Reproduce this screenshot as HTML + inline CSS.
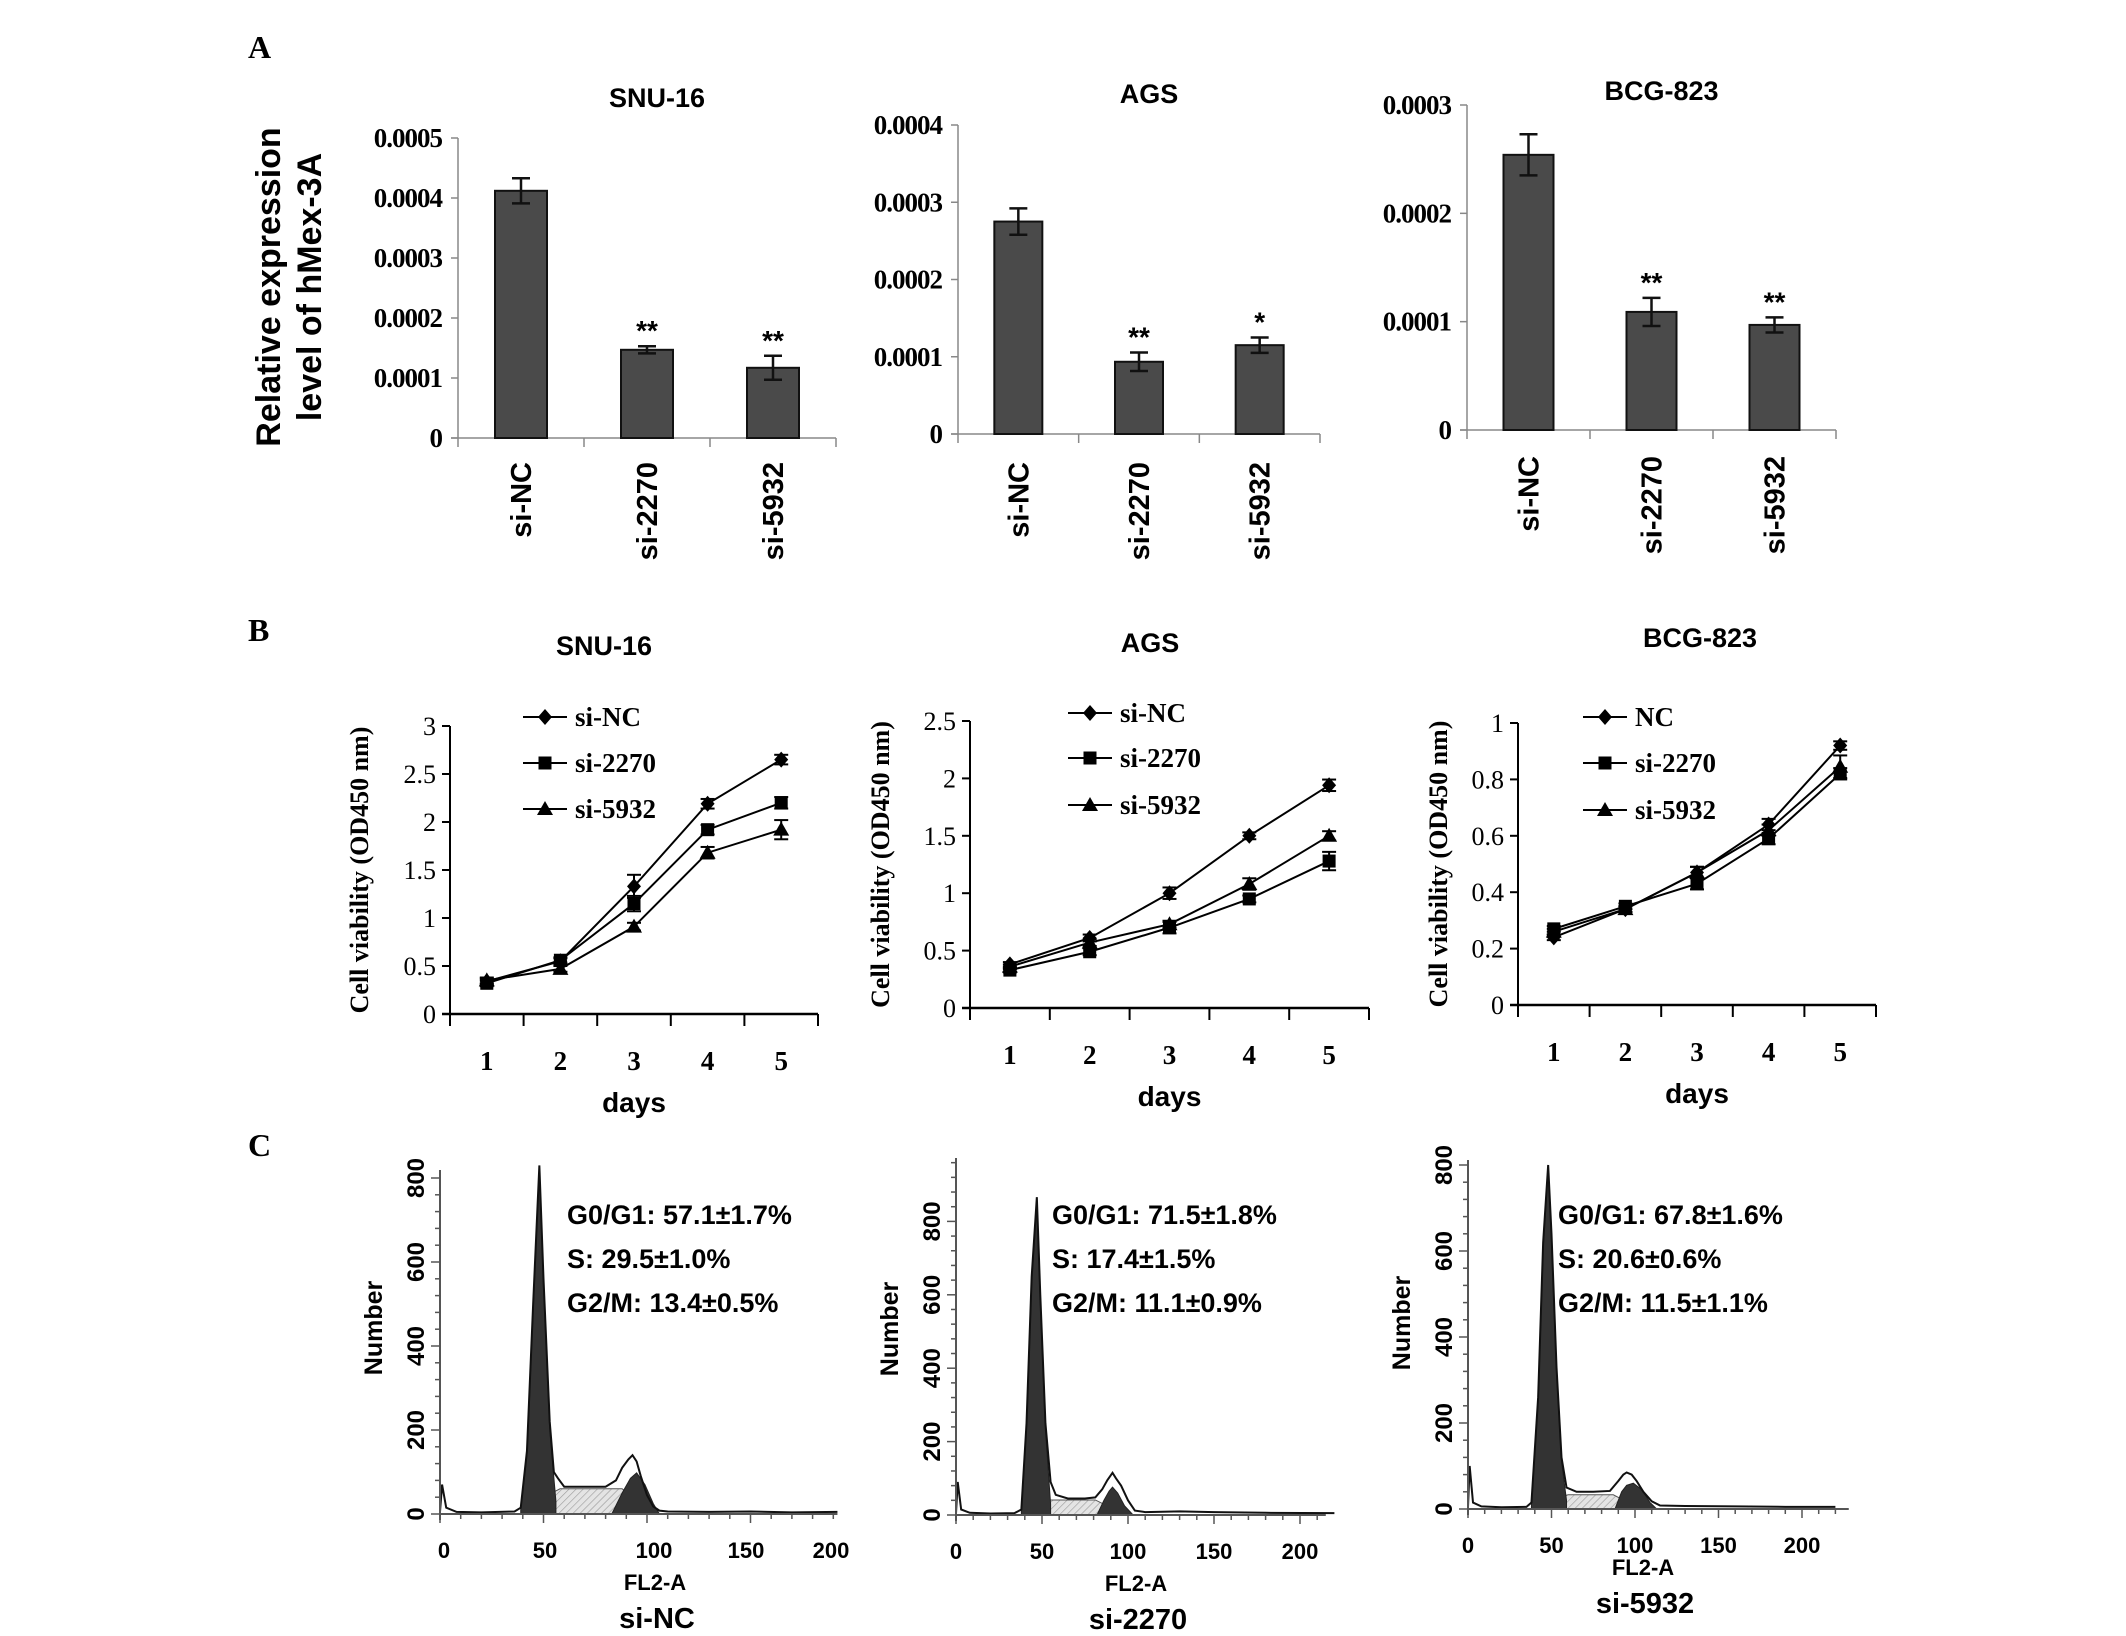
<!DOCTYPE html>
<html><head><meta charset="utf-8">
<style>
html,body{margin:0;padding:0;background:#fff;}
svg{display:block;}
.sans{font-family:"Liberation Sans",sans-serif;font-weight:bold;}
.serif{font-family:"Liberation Serif",serif;font-weight:bold;}
</style></head>
<body>
<svg id="fig" xmlns="http://www.w3.org/2000/svg" width="2126" height="1636" viewBox="0 0 2126 1636">
<defs>
<pattern id="hatch" width="5" height="5" patternUnits="userSpaceOnUse" patternTransform="rotate(45)">
<rect width="5" height="5" fill="#e4e4e4"/><line x1="0" y1="0" x2="0" y2="5" stroke="#9a9a9a" stroke-width="1.2"/>
</pattern>
</defs>
<text x="248" y="58" class="serif" font-size="32">A</text>
<text x="248" y="641" class="serif" font-size="32">B</text>
<text x="248" y="1156" class="serif" font-size="32">C</text>
<g transform="translate(280,287) rotate(-90)">
<text x="0" y="0" text-anchor="middle" class="sans" font-size="34">Relative expression</text>
<text x="0" y="41" text-anchor="middle" class="sans" font-size="34">level of hMex-3A</text>
</g>
</svg>
<script>
// ---------- Panel A data ----------
const aCategories = ["si-NC", "si-2270", "si-5932"];
const aTitles = ["SNU-16", "AGS", "BCG-823"];
const aValsSNU = [0.000412, 0.000147, 0.000117];
const aErrSNU = [0.000021, 0.000006, 0.000020];
const aValsAGS = [0.000275, 0.0000935, 0.000115];
const aErrAGS = [0.000017, 0.000012, 0.000010];
const aValsBCG = [0.000254, 0.000109, 0.000097];
const aErrBCG = [0.000019, 0.000013, 0.000007];
const aStars = [["", "**", "**"], ["", "**", "*"], ["", "**", "**"]];
const aTicksSNU = [0, 0.0001, 0.0002, 0.0003, 0.0004, 0.0005];
const aTickLabelsSNU = ["0", "0.0001", "0.0002", "0.0003", "0.0004", "0.0005"];
const aTicksAGS = [0, 0.0001, 0.0002, 0.0003, 0.0004];
const aTickLabelsAGS = ["0", "0.0001", "0.0002", "0.0003", "0.0004"];
const aTicksBCG = [0, 0.0001, 0.0002, 0.0003];
const aTickLabelsBCG = ["0", "0.0001", "0.0002", "0.0003"];

// ---------- Panel B data ----------
const bDays = [1, 2, 3, 4, 5];
const bSeriesNames = [["si-NC", "si-2270", "si-5932"], ["si-NC", "si-2270", "si-5932"], ["NC", "si-2270", "si-5932"]];
const bSNU_NC = [0.34, 0.55, 1.33, 2.19, 2.65];
const bSNU_2270 = [0.32, 0.56, 1.15, 1.92, 2.2];
const bSNU_5932 = [0.35, 0.47, 0.91, 1.68, 1.92];
const bSNU_errNC = [0.03, 0.03, 0.12, 0.05, 0.05];
const bSNU_err2270 = [0.03, 0.03, 0.08, 0.05, 0.06];
const bSNU_err5932 = [0.03, 0.03, 0.04, 0.06, 0.1];
const bAGS_NC = [0.38, 0.61, 1.0, 1.5, 1.94];
const bAGS_2270 = [0.33, 0.49, 0.7, 0.95, 1.28];
const bAGS_5932 = [0.36, 0.57, 0.73, 1.08, 1.5];
const bAGS_errNC = [0.02, 0.03, 0.05, 0.03, 0.05];
const bAGS_err2270 = [0.02, 0.03, 0.05, 0.03, 0.08];
const bAGS_err5932 = [0.02, 0.03, 0.03, 0.05, 0.04];
const bBCG_NC = [0.24, 0.34, 0.47, 0.64, 0.92];
const bBCG_2270 = [0.27, 0.35, 0.43, 0.59, 0.82];
const bBCG_5932 = [0.26, 0.34, 0.47, 0.62, 0.845];
const bBCG_errNC = [0.01, 0.01, 0.02, 0.02, 0.015];
const bBCG_err2270 = [0.01, 0.01, 0.02, 0.02, 0.02];
const bBCG_err5932 = [0.01, 0.01, 0.02, 0.02, 0.04];
const bTicksSNU = [0, 0.5, 1, 1.5, 2, 2.5, 3];
const bTickLabelsSNU = ["0", "0.5", "1", "1.5", "2", "2.5", "3"];
const bTicksAGS = [0, 0.5, 1, 1.5, 2, 2.5];
const bTickLabelsAGS = ["0", "0.5", "1", "1.5", "2", "2.5"];
const bTicksBCG = [0, 0.2, 0.4, 0.6, 0.8, 1];
const bTickLabelsBCG = ["0", "0.2", "0.4", "0.6", "0.8", "1"];

// ---------- Panel C data (channel, count) ----------
const cNames = ["si-NC", "si-2270", "si-5932"];
const cStats = [["G0/G1: 57.1±1.7%", "S: 29.5±1.0%", "G2/M: 13.4±0.5%"],
                ["G0/G1: 71.5±1.8%", "S: 17.4±1.5%", "G2/M: 11.1±0.9%"],
                ["G0/G1: 67.8±1.6%", "S: 20.6±0.6%", "G2/M: 11.5±1.1%"]];
const cXTicks = [0, 50, 100, 150, 200];
const cYTicks = [0, 200, 400, 600, 800];
const c1Ch = [0, 1, 3, 8, 20, 36, 39, 42, 45, 48, 50, 53, 55, 57, 60, 70, 80, 85, 88, 91, 93, 95, 97, 100, 103, 106, 110, 130, 150, 170, 192];
const c1Ct = [5, 70, 15, 5, 4, 6, 15, 150, 500, 830, 560, 220, 100, 85, 65, 65, 65, 80, 110, 130, 140, 125, 90, 45, 18, 8, 6, 5, 6, 4, 5];
const c1G1Ch = [39, 42, 45, 48, 50, 53, 56];
const c1G1Ct = [10, 140, 480, 820, 540, 200, 30];
const c1SCh = [44, 52, 58, 88, 95, 101];
const c1SCt = [0, 45, 60, 60, 30, 0];
const c1G2Ch = [83, 88, 92, 95, 99, 103, 106];
const c1G2Ct = [0, 50, 85, 98, 70, 25, 0];
const c2Ch = [0, 1, 3, 8, 20, 34, 38, 41, 44, 47, 49, 52, 55, 58, 65, 75, 81, 85, 88, 91, 93, 96, 100, 104, 110, 130, 150, 180, 220];
const c2Ct = [5, 90, 15, 6, 4, 5, 15, 250, 650, 866, 600, 250, 90, 55, 45, 45, 48, 70, 95, 115, 100, 80, 40, 12, 8, 10, 8, 6, 5];
const c2G1Ch = [38, 41, 44, 47, 49, 52, 55];
const c2G1Ct = [10, 240, 630, 850, 580, 230, 30];
const c2SCh = [42, 49, 55, 81, 90, 95];
const c2SCt = [0, 30, 41, 41, 20, 0];
const c2G2Ch = [82, 86, 89, 91, 94, 98, 103];
const c2G2Ct = [0, 40, 65, 76, 60, 25, 0];
const c3Ch = [0, 1, 3, 8, 20, 35, 38, 42, 45, 48, 50, 53, 56, 59, 65, 75, 85, 90, 93, 95, 98, 101, 105, 110, 115, 130, 160, 190, 220];
const c3Ct = [5, 100, 15, 6, 4, 5, 15, 260, 620, 800, 640, 330, 120, 50, 40, 40, 42, 65, 80, 85, 80, 65, 40, 18, 8, 7, 6, 5, 5];
const c3G1Ch = [38, 42, 45, 48, 50, 53, 56, 59];
const c3G1Ct = [10, 250, 600, 790, 620, 320, 110, 20];
const c3SCh = [42, 52, 60, 87, 96, 104];
const c3SCt = [0, 25, 33, 33, 15, 0];
const c3G2Ch = [88, 92, 95, 99, 104, 109, 113];
const c3G2Ct = [0, 40, 55, 60, 45, 15, 0];

const NS = "http://www.w3.org/2000/svg";
const svg = document.getElementById("fig");
function mk(tag, attrs, parent) {
  const e = document.createElementNS(NS, tag);
  for (const k in attrs) e.setAttribute(k, attrs[k]);
  (parent || svg).appendChild(e);
  return e;
}
function txt(str, attrs, parent) { const t = mk("text", attrs, parent); t.textContent = str; return t; }

// ---------- Panel A ----------
function barChart(cfg, vals, errs, ticks, tickLabels, stars, title) {
  const g = mk("g", {});
  
  
  const y = v => cfg.y0 - (v / cfg.vmax) * (cfg.y0 - cfg.ytop);
  const n = aCategories.length;
  const slot = (cfg.xend - cfg.x0) / n;
  const xc = i => cfg.x0 + slot * (i + 0.5);
  const tt = txt(title, { x: (cfg.x0 + cfg.xend) / 2 + 10, y: cfg.ty, "text-anchor": "middle", class: "sans", "font-size": 27 }, g);
  
  
  mk("line", { x1: cfg.x0, y1: cfg.ytop, x2: cfg.x0, y2: cfg.y0, stroke: "#888", "stroke-width": 1.5 }, g);
  mk("line", { x1: cfg.x0 - 7, y1: cfg.y0, x2: cfg.xend, y2: cfg.y0, stroke: "#888", "stroke-width": 1.5 }, g);
  for (let i = 0; i <= n; i++) {
    mk("line", { x1: cfg.x0 + slot * i, y1: cfg.y0, x2: cfg.x0 + slot * i, y2: cfg.y0 + 9, stroke: "#888", "stroke-width": 1.5 }, g);
  }
  ticks.forEach((t, i) => {
    mk("line", { x1: cfg.x0 - 7, y1: y(t), x2: cfg.x0, y2: y(t), stroke: "#888", "stroke-width": 1.5 }, g);
    const l = txt(tickLabels[i], { x: cfg.x0 - 16, y: y(t) + 9, "text-anchor": "end", class: "serif", "font-size": 27, "letter-spacing": "-1" }, g);
    
    
  });
  vals.forEach((v, i) => {
    const b = mk("rect", { x: xc(i) - cfg.bw / 2, y: y(v), width: cfg.bw, height: cfg.y0 - y(v), fill: "#4a4a4a", stroke: "#111", "stroke-width": 2 }, g);
    
    
    const e1 = y(v + errs[i]), e2 = y(v - errs[i]);
    mk("line", { x1: xc(i), y1: e1, x2: xc(i), y2: e2, stroke: "#111", "stroke-width": 2.5 }, g);
    mk("line", { x1: xc(i) - 9, y1: e1, x2: xc(i) + 9, y2: e1, stroke: "#111", "stroke-width": 2.5 }, g);
    mk("line", { x1: xc(i) - 9, y1: e2, x2: xc(i) + 9, y2: e2, stroke: "#111", "stroke-width": 2.5 }, g);
    if (stars[i]) {
      const s = txt(stars[i], { x: xc(i), y: e1 + 8, "text-anchor": "middle", class: "sans", "font-size": 28, transform: "translate(0,-14)" }, g);
      
      
    }
    const cl = txt(aCategories[i], { x: 0, y: 0, "text-anchor": "end", class: "sans", "font-size": 29, transform: "translate(" + (xc(i) + 10) + "," + cfg.ly + ") rotate(-90)" }, g);
    
    
  });
}
barChart({ x0: 458, xend: 836, y0: 438, ytop: 138, vmax: 0.0005, bw: 52, ty: 107, ly: 462 }, aValsSNU, aErrSNU, aTicksSNU, aTickLabelsSNU, aStars[0], aTitles[0]);
barChart({ x0: 958, xend: 1320, y0: 434, ytop: 125, vmax: 0.0004, bw: 48, ty: 103, ly: 462 }, aValsAGS, aErrAGS, aTicksAGS, aTickLabelsAGS, aStars[1], aTitles[1]);
barChart({ x0: 1467, xend: 1836, y0: 430, ytop: 105, vmax: 0.0003, bw: 50, ty: 100, ly: 456 }, aValsBCG, aErrBCG, aTicksBCG, aTickLabelsBCG, aStars[2], aTitles[2]);

// ---------- Panel B ----------
function marker(kind, x, y, g) {
  let m;
  if (kind === 0) m = mk("polygon", { points: [x, y - 8, x + 7, y, x, y + 8, x - 7, y].join(" "), fill: "#000" }, g);
  else if (kind === 1) m = mk("rect", { x: x - 6.5, y: y - 6.5, width: 13, height: 13, fill: "#000" }, g);
  else m = mk("polygon", { points: [x, y - 8, x + 8, y + 6, x - 8, y + 6].join(" "), fill: "#000" }, g);
  return m;
}
function lineChart(cfg, series, errs, ticks, tickLabels, names, title) {
  const g = mk("g", {});
  
  
  const y = v => cfg.y0 - (v / cfg.vmax) * (cfg.y0 - cfg.ytop);
  const slot = (cfg.xend - cfg.x0) / bDays.length;
  const x = i => cfg.x0 + slot * (i + 0.5);
  const tt = txt(title, { x: cfg.tx, y: cfg.ty, "text-anchor": "middle", class: "sans", "font-size": 27 }, g);
  
  
  mk("line", { x1: cfg.x0, y1: cfg.ytop, x2: cfg.x0, y2: cfg.y0 + 12, stroke: "#000", "stroke-width": 2 }, g);
  mk("line", { x1: cfg.x0 - 8, y1: cfg.y0, x2: cfg.xend, y2: cfg.y0, stroke: "#000", "stroke-width": 2.5 }, g);
  for (let i = 0; i <= bDays.length; i++) mk("line", { x1: cfg.x0 + slot * i, y1: cfg.y0, x2: cfg.x0 + slot * i, y2: cfg.y0 + 12, stroke: "#000", "stroke-width": 2 }, g);
  ticks.forEach((t, i) => {
    mk("line", { x1: cfg.x0 - 8, y1: y(t), x2: cfg.x0, y2: y(t), stroke: "#000", "stroke-width": 2 }, g);
    const l = txt(tickLabels[i], { x: cfg.x0 - 14, y: y(t) + 9, "text-anchor": "end", class: "serif", "font-size": 26, style: "font-weight:normal" }, g);
    
    
  });
  bDays.forEach((d, i) => {
    const l = txt(String(d), { x: x(i), y: cfg.y0 + 56, "text-anchor": "middle", class: "serif", "font-size": 27 }, g);
    
    
  });
  const dl = txt("days", { x: (cfg.x0 + cfg.xend) / 2, y: cfg.y0 + 98, "text-anchor": "middle", class: "sans", "font-size": 28 }, g);
  
  
  const yl = txt("Cell viability (OD450 nm)", { x: 0, y: 0, "text-anchor": "middle", class: "serif", "font-size": 26, transform: "translate(" + cfg.ylx + "," + ((cfg.y0 + cfg.ytop) / 2) + ") rotate(-90)" }, g);
  
  
  series.forEach((s, k) => {
    const pl = mk("polyline", { points: s.map((v, i) => x(i) + "," + y(v)).join(" "), fill: "none", stroke: "#000", "stroke-width": 2 }, g);
    
    
    s.forEach((v, i) => {
      const e = errs[k][i];
      mk("line", { x1: x(i), y1: y(v + e), x2: x(i), y2: y(v - e), stroke: "#000", "stroke-width": 2 }, g);
      mk("line", { x1: x(i) - 7, y1: y(v + e), x2: x(i) + 7, y2: y(v + e), stroke: "#000", "stroke-width": 2 }, g);
      mk("line", { x1: x(i) - 7, y1: y(v - e), x2: x(i) + 7, y2: y(v - e), stroke: "#000", "stroke-width": 2 }, g);
      const m = marker(k, x(i), y(v), g);
      
      
    });
    const ly = cfg.legY[k];
    const lg = mk("g", {}, g);
    
    
    mk("line", { x1: cfg.legX, y1: ly, x2: cfg.legX + 44, y2: ly, stroke: "#000", "stroke-width": 2 }, lg);
    marker(k, cfg.legX + 22, ly, lg);
    txt(names[k], { x: cfg.legX + 52, y: ly + 9, class: "serif", "font-size": 27 }, lg);
  });
}
lineChart({ x0: 450, xend: 818, y0: 1014, ytop: 726, vmax: 3, tx: 604, ty: 655, ylx: 368, legX: 523, legY: [717, 763, 809] },
  [bSNU_NC, bSNU_2270, bSNU_5932], [bSNU_errNC, bSNU_err2270, bSNU_err5932], bTicksSNU, bTickLabelsSNU, bSeriesNames[0], "SNU-16");
lineChart({ x0: 970, xend: 1369, y0: 1008, ytop: 721, vmax: 2.5, tx: 1150, ty: 652, ylx: 889, legX: 1068, legY: [713, 758, 805] },
  [bAGS_NC, bAGS_2270, bAGS_5932], [bAGS_errNC, bAGS_err2270, bAGS_err5932], bTicksAGS, bTickLabelsAGS, bSeriesNames[1], "AGS");
lineChart({ x0: 1518, xend: 1876, y0: 1005, ytop: 723, vmax: 1, tx: 1700, ty: 647, ylx: 1447, legX: 1583, legY: [717, 763, 810] },
  [bBCG_NC, bBCG_2270, bBCG_5932], [bBCG_errNC, bBCG_err2270, bBCG_err5932], bTicksBCG, bTickLabelsBCG, bSeriesNames[2], "BCG-823");

// ---------- Panel C ----------
function hist(cfg, ch, ct, g1c, g1n, sc, sn, g2c, g2n, stats, name) {
  const g = mk("g", {});
  
  
  const x = c => cfg.x0 + c * cfg.sx;
  const y = n => cfg.y0 - n * cfg.sy;
  const poly = (cs, ns) => cs.map((c, i) => x(c) + "," + y(ns[i])).join(" ");
  const area = (cs, ns) => x(cs[0]) + "," + cfg.y0 + " " + poly(cs, ns) + " " + x(cs[cs.length - 1]) + "," + cfg.y0;
  const s = mk("polygon", { points: area(sc, sn), fill: "url(#hatch)", stroke: "#555", "stroke-width": 1 }, g);
  
  
  const g1 = mk("polygon", { points: area(g1c, g1n), fill: "#333", stroke: "#222", "stroke-width": 1 }, g);
  
  
  const g2 = mk("polygon", { points: area(g2c, g2n), fill: "#333", stroke: "#222", "stroke-width": 1 }, g);
  
  
  const ol = mk("polyline", { points: poly(ch, ct), fill: "none", stroke: "#111", "stroke-width": 2 }, g);
  
  
  mk("line", { x1: cfg.x0, y1: cfg.ytop, x2: cfg.x0, y2: cfg.y0 + 6, stroke: "#555", "stroke-width": 2 }, g);
  mk("line", { x1: cfg.x0, y1: cfg.y0, x2: x(cfg.cmax), y2: cfg.y0, stroke: "#555", "stroke-width": 2 }, g);
  for (let c = 0; c <= cfg.cmax; c += 10) mk("line", { x1: x(c), y1: cfg.y0, x2: x(c), y2: cfg.y0 + (c % 50 === 0 ? 9 : 5), stroke: "#555", "stroke-width": 1.5 }, g);
  for (let n = 0; n * cfg.sy <= cfg.y0 - cfg.ytop; n += 40) mk("line", { x1: cfg.x0 - (n % 200 === 0 ? 9 : 5), y1: y(n), x2: cfg.x0, y2: y(n), stroke: "#555", "stroke-width": 1.5 }, g);
  cXTicks.forEach((t, i) => {
    const lx = cfg.labelX ? cfg.labelX[i] : x(t);
    const l = txt(String(t), { x: lx, y: cfg.y0 + 44, "text-anchor": "middle", class: "sans", "font-size": 22 }, g);
    
    
  });
  cYTicks.forEach(t => {
    const l = txt(String(t), { x: 0, y: 0, "text-anchor": "middle", class: "sans", "font-size": 24, transform: "translate(" + (cfg.x0 - 16) + "," + y(t) + ") rotate(-90)" }, g);
    
    
  });
  const yl = txt("Number", { x: 0, y: 0, "text-anchor": "middle", class: "sans", "font-size": 25, transform: "translate(" + (cfg.x0 - 58) + "," + (cfg.y0 - 186) + ") rotate(-90)" }, g);
  
  
  const xl = txt("FL2-A", { x: x(100) + 8, y: cfg.y0 + 76 + cfg.dy, "text-anchor": "middle", class: "sans", "font-size": 22 }, g);
  
  
  const nl = txt(name, { x: x(100) + 10, y: cfg.y0 + 114 + cfg.dy, "text-anchor": "middle", class: "sans", "font-size": 29 }, g);
  
  
  stats.forEach((st, i) => {
    const l = txt(st, { x: cfg.tx, y: [1224, 1268, 1312][i], class: "sans", "font-size": 27 }, g);
    
    
  });
}
hist({ x0: 440, y0: 1514, sx: 2.07, sy: 0.42, ytop: 1170, cmax: 192, tx: 567, dy: 0, labelX: [444, 545, 654, 746, 831] }, c1Ch, c1Ct, c1G1Ch, c1G1Ct, c1SCh, c1SCt, c1G2Ch, c1G2Ct, cStats[0], cNames[0]);
hist({ x0: 956, y0: 1515, sx: 1.72, sy: 0.367, ytop: 1158, cmax: 215, tx: 1052, dy: 0 }, c2Ch, c2Ct, c2G1Ch, c2G1Ct, c2SCh, c2SCt, c2G2Ch, c2G2Ct, cStats[1], cNames[1]);
hist({ x0: 1468, y0: 1509, sx: 1.67, sy: 0.43, ytop: 1160, cmax: 228, tx: 1558, dy: -10 }, c3Ch, c3Ct, c3G1Ch, c3G1Ct, c3SCh, c3SCt, c3G2Ch, c3G2Ct, cStats[2], cNames[2]);
</script>
</body></html>
